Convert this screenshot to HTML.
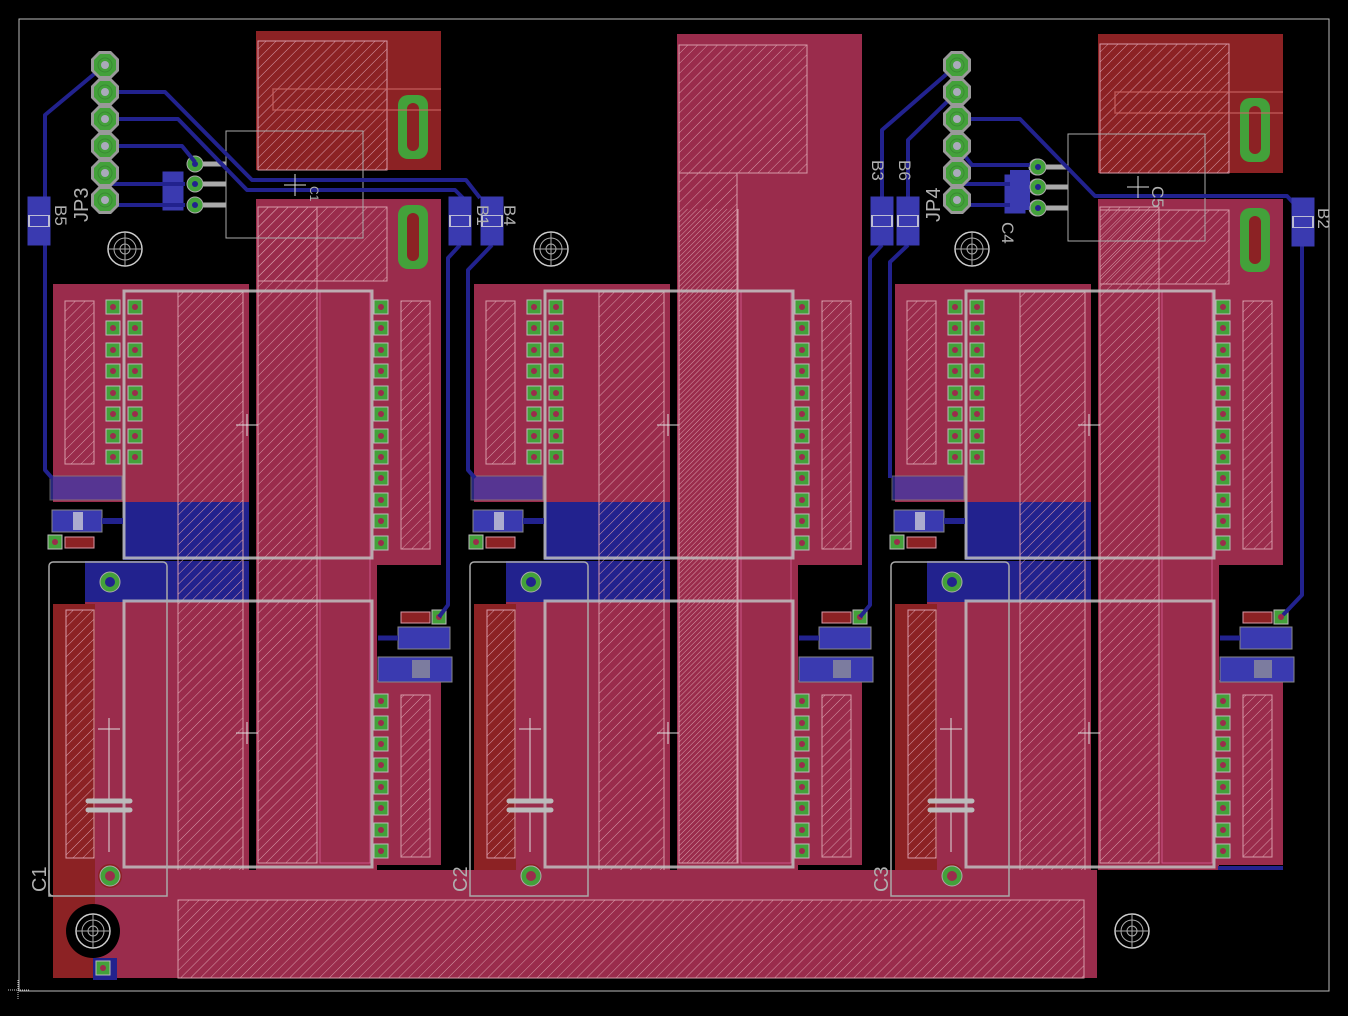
<!DOCTYPE html>
<html><head><meta charset="utf-8"><style>
html,body{margin:0;padding:0;background:#000;width:1348px;height:1016px;overflow:hidden}
svg{display:block}
text{font-family:"Liberation Sans",sans-serif;fill:#b0b0b0}
</style></head><body>
<svg width="1348" height="1016" viewBox="0 0 1348 1016" xmlns="http://www.w3.org/2000/svg">
<defs>
<pattern id="h" width="7" height="7" patternUnits="userSpaceOnUse" patternTransform="rotate(45)">
<line x1="0" y1="0" x2="0" y2="7" stroke="#d79aa8" stroke-width="1"/>
</pattern>
<g id="pad"><rect x="-7" y="-7" width="14" height="14" fill="#43a13a" stroke="#bbb" stroke-width="1"/><circle r="3" fill="#9a2c4c"/></g>
<g id="hole"><circle r="17" fill="none" stroke="#ccc" stroke-width="1.5"/><circle r="11" fill="none" stroke="#aaa"/><circle r="5" fill="none" stroke="#aaa"/><line x1="-17" y1="0" x2="17" y2="0" stroke="#aaa"/><line x1="0" y1="-17" x2="0" y2="17" stroke="#aaa"/></g>
<g id="oblong"><rect x="-15" y="-32" width="30" height="64" rx="10" fill="#43a13a"/><rect x="-6" y="-24" width="12" height="48" rx="6" fill="#8c2224"/></g>
<g id="oct"><polygon points="-6,-14 6,-14 14,-6 14,6 6,14 -6,14 -14,6 -14,-6" fill="#999"/><polygon points="-5,-11 5,-11 11,-5 11,5 5,11 -5,11 -11,5 -11,-5" fill="#43a13a"/><circle r="7" fill="none" stroke="#3a8a33" stroke-width="1"/><circle r="4" fill="#aab"/></g>
<g id="jp">
<use href="#oct" y="0"/><use href="#oct" y="27"/><use href="#oct" y="54"/><use href="#oct" y="81"/><use href="#oct" y="108"/><use href="#oct" y="135"/>
</g>
<g id="bsmd"><rect x="-11" y="-24" width="22" height="48" fill="#3a3ab0" stroke="#3a3ab0"/><rect x="-11" y="-6" width="22" height="12" fill="#ddd" opacity=".8"/><rect x="-9" y="-5" width="18" height="10" fill="#3a3ab0"/></g>
<g id="mod">
<rect x="256" y="199" width="185" height="366" fill="#9a2c4c"/>
<rect x="53" y="284" width="196" height="218" fill="#9a2c4c"/>
<rect x="123" y="502" width="126" height="58" fill="#22228e"/>
<rect x="85" y="561" width="164" height="42" fill="#22228e"/>
<rect x="85" y="602" width="164" height="270" fill="#9a2c4c"/>
<rect x="53" y="604" width="42" height="374" fill="#8c2224"/>
<rect x="256" y="565" width="121" height="305" fill="#9a2c4c"/>
<rect x="372" y="680" width="69" height="185" fill="#9a2c4c"/>
<rect x="258" y="207" width="59" height="656" fill="url(#h)" stroke="#d79aa8"/>
<rect x="320" y="291" width="50" height="572" fill="none" stroke="#c58" stroke-width="1"/>
<rect x="178" y="292" width="65" height="608" fill="url(#h)" stroke="#d79aa8"/>
<rect x="65" y="301" width="29" height="163" fill="url(#h)" stroke="#d79aa8"/>
<rect x="66" y="610" width="28" height="248" fill="url(#h)" stroke="#d79aa8"/>
<rect x="401" y="301" width="29" height="248" fill="url(#h)" stroke="#d79aa8"/>
<rect x="401" y="695" width="29" height="162" fill="url(#h)" stroke="#d79aa8"/>
<rect x="124" y="291" width="248" height="267" fill="none" stroke="#c0c0c0" stroke-width="3" opacity=".85"/>
<rect x="124" y="601" width="248" height="266" fill="none" stroke="#c0c0c0" stroke-width="3" opacity=".85"/>
<rect x="49" y="562" width="118" height="334" rx="4" fill="none" stroke="#aaa" stroke-width="1.5"/>
<g>
<use href="#pad" x="113" y="307"/><use href="#pad" x="135" y="307"/>
<use href="#pad" x="113" y="328"/><use href="#pad" x="135" y="328"/>
<use href="#pad" x="113" y="350"/><use href="#pad" x="135" y="350"/>
<use href="#pad" x="113" y="371"/><use href="#pad" x="135" y="371"/>
<use href="#pad" x="113" y="393"/><use href="#pad" x="135" y="393"/>
<use href="#pad" x="113" y="414"/><use href="#pad" x="135" y="414"/>
<use href="#pad" x="113" y="436"/><use href="#pad" x="135" y="436"/>
<use href="#pad" x="113" y="457"/><use href="#pad" x="135" y="457"/>
</g>
<g>
<use href="#pad" x="381" y="307"/><use href="#pad" x="381" y="328"/><use href="#pad" x="381" y="350"/><use href="#pad" x="381" y="371"/><use href="#pad" x="381" y="393"/><use href="#pad" x="381" y="414"/><use href="#pad" x="381" y="436"/><use href="#pad" x="381" y="457"/><use href="#pad" x="381" y="478"/><use href="#pad" x="381" y="500"/><use href="#pad" x="381" y="521"/><use href="#pad" x="381" y="543"/>
<use href="#pad" x="381" y="701"/><use href="#pad" x="381" y="723"/><use href="#pad" x="381" y="744"/><use href="#pad" x="381" y="765"/><use href="#pad" x="381" y="787"/><use href="#pad" x="381" y="808"/><use href="#pad" x="381" y="830"/><use href="#pad" x="381" y="851"/>
</g>
<circle cx="110" cy="582" r="10" fill="#43a13a" stroke="#aaa"/><circle cx="110" cy="582" r="5" fill="#22228e"/>
<circle cx="110" cy="876" r="12" fill="#8c2224"/><circle cx="110" cy="876" r="10" fill="#43a13a" stroke="#aaa"/><circle cx="110" cy="876" r="5" fill="#9a2c4c"/>
<rect x="50" y="476" width="72" height="24" fill="#3a3ab0" opacity=".7" stroke="#888"/>
<rect x="52" y="510" width="50" height="22" fill="#3a3ab0" stroke="#888"/>
<rect x="73" y="512" width="10" height="18" fill="#ddd" opacity=".7"/>
<line x1="102" y1="521" x2="123" y2="521" stroke="#22228e" stroke-width="6"/>
<rect x="65" y="537" width="29" height="11" fill="#8c2224" stroke="#d79aa8"/>
<use href="#pad" x="55" y="542"/>
<rect x="401" y="612" width="29" height="11" fill="#8c2224" stroke="#d79aa8"/>
<use href="#pad" x="439" y="617"/>
<rect x="398" y="627" width="52" height="22" fill="#3a3ab0" stroke="#888"/>
<rect x="378" y="657" width="74" height="25" fill="#3a3ab0" stroke="#888"/>
<rect x="412" y="660" width="18" height="18" fill="#999" opacity=".7"/>
<line x1="378" y1="638" x2="398" y2="638" stroke="#22228e" stroke-width="5"/>
<g stroke="#ddd" stroke-width="1"><line x1="236" y1="425" x2="258" y2="425"/><line x1="247" y1="414" x2="247" y2="436"/>
<line x1="236" y1="733" x2="258" y2="733"/><line x1="247" y1="722" x2="247" y2="744"/>
<line x1="98" y1="729" x2="120" y2="729"/><line x1="109" y1="718" x2="109" y2="740"/>
<line x1="109" y1="740" x2="109" y2="800"/><line x1="109" y1="811" x2="109" y2="852"/></g>
<g stroke="#bbb" stroke-width="5" stroke-linecap="round"><line x1="88" y1="801" x2="130" y2="801"/><line x1="88" y1="810" x2="130" y2="810"/></g>
</g>
<g id="top1">
<rect x="256" y="31" width="185" height="139" fill="#8c2224"/>
<rect x="258" y="41" width="129" height="129" fill="url(#h)" stroke="#d79aa8"/>
<rect x="258" y="207" width="129" height="74" fill="url(#h)" stroke="#d79aa8"/>
<use href="#oblong" x="413" y="127"/><use href="#oblong" x="413" y="237"/>
<polyline points="441,89 273,89 273,110 441,110" fill="none" stroke="#c66" stroke-width="1.5" opacity=".7"/>
<rect x="226" y="131" width="137" height="107" fill="none" stroke="#aaa" stroke-width="1"/>
<g stroke="#aaa" stroke-width="5"><line x1="195" y1="164" x2="226" y2="164"/><line x1="195" y1="184" x2="226" y2="184"/><line x1="195" y1="205" x2="226" y2="205"/></g>
<g fill="#43a13a" stroke="#aaa"><circle cx="195" cy="164" r="8"/><circle cx="195" cy="184" r="8"/><circle cx="195" cy="205" r="8"/></g>
<g fill="#22228e"><circle cx="195" cy="164" r="3"/><circle cx="195" cy="184" r="3"/><circle cx="195" cy="205" r="3"/></g>
<rect x="163" y="172" width="20" height="38" fill="#3a3ab0" stroke="#3a3ab0"/>
</g>
</defs>

<rect x="19" y="19" width="1310" height="972" fill="none" stroke="#bbb" stroke-width="1"/>

<rect x="677" y="34" width="185" height="170" fill="#9a2c4c"/>
<rect x="679" y="45" width="128" height="128" fill="url(#h)" stroke="#d79aa8"/>

<use href="#mod"/>
<use href="#mod" x="421"/>
<use href="#mod" x="842"/>
<use href="#top1"/>
<g transform="translate(842,3)"><use href="#top1"/></g>
<rect x="677" y="199" width="185" height="10" fill="#9a2c4c"/>
<rect x="679" y="173" width="58" height="690" fill="url(#h)" stroke="#d79aa8"/>

<rect x="53" y="870" width="1044" height="108" fill="#9a2c4c"/>
<rect x="53" y="870" width="42" height="108" fill="#8c2224"/>
<rect x="178" y="900" width="906" height="78" fill="url(#h)" stroke="#d79aa8"/>
<circle cx="110" cy="876" r="12" fill="#8c2224"/><circle cx="110" cy="876" r="10" fill="#43a13a" stroke="#aaa"/><circle cx="110" cy="876" r="5" fill="#9a2c4c"/>
<circle cx="531" cy="876" r="10" fill="#43a13a" stroke="#aaa"/><circle cx="531" cy="876" r="5" fill="#9a2c4c"/>
<circle cx="952" cy="876" r="10" fill="#43a13a" stroke="#aaa"/><circle cx="952" cy="876" r="5" fill="#9a2c4c"/>
<g fill="none" stroke="#aaa" stroke-width="1.5"><path d="M49,870 V896 H167 V870"/><path d="M470,870 V896 H588 V870"/><path d="M891,870 V896 H1009 V870"/></g>
<circle cx="93" cy="931" r="27" fill="#000"/><use href="#hole" x="93" y="931"/>
<rect x="93" y="958" width="24" height="22" fill="#22228e"/><use href="#pad" x="103" y="968"/>
<use href="#hole" x="125" y="249"/><use href="#hole" x="551" y="249"/><use href="#hole" x="972" y="249"/><use href="#hole" x="1132" y="931"/>
<line x1="1218" y1="868" x2="1283" y2="868" stroke="#22228e" stroke-width="4"/>

<g fill="none" stroke="#22228e" stroke-width="4" stroke-linejoin="round">
<polyline points="105,65 45,115 45,470 52,478"/>
<polyline points="105,92 165,92 252,180 466,180 480,198"/>
<polyline points="105,119 178,119 247,190 455,190 465,200"/>
<polyline points="105,146 182,146 195,162"/>
<polyline points="105,184 185,184"/>
<polyline points="105,205 185,205"/>
<polyline points="460,245 448,258 448,605 439,617"/>
<polyline points="492,245 468,270 468,470 475,478"/>
<polyline points="957,65 882,130 882,200"/>
<polyline points="957,92 908,140 908,200"/>
<polyline points="957,119 1020,119 1095,196 1287,196 1300,210"/>
<polyline points="957,146 972,165 1030,165"/>
<polyline points="957,184 1030,184"/>
<polyline points="957,205 1030,205"/>
<polyline points="882,245 870,258 870,605 860,617"/>
<polyline points="908,245 890,262 890,478"/>
<polyline points="1302,245 1302,595 1283,615"/>
</g>
<use href="#jp" x="105" y="65"/>
<use href="#jp" x="957" y="65"/>
<use href="#bsmd" x="39" y="221"/>
<use href="#bsmd" x="460" y="221"/>
<use href="#bsmd" x="492" y="221"/>
<use href="#bsmd" x="882" y="221"/>
<use href="#bsmd" x="908" y="221"/>
<use href="#bsmd" x="1303" y="222"/>
<rect x="1010" y="170" width="20" height="40" fill="#3a3ab0"/>
<g fill="#43a13a" stroke="#aaa"><circle cx="1038" cy="167" r="8"/><circle cx="1038" cy="187" r="8"/><circle cx="1038" cy="208" r="8"/></g>
<g fill="#22228e"><circle cx="1038" cy="167" r="3"/><circle cx="1038" cy="187" r="3"/><circle cx="1038" cy="208" r="3"/></g>

<g font-size="20">
<text transform="translate(88,222) rotate(-90)">JP3</text>
<text transform="translate(940,222) rotate(-90)">JP4</text>
<text transform="translate(46,892) rotate(-90)">C1</text>
<text transform="translate(467,892) rotate(-90)">C2</text>
<text transform="translate(888,892) rotate(-90)">C3</text>
</g>
<g font-size="17">
<text transform="translate(55,205) rotate(90)">B5</text>
<text transform="translate(477,205) rotate(90)">B1</text>
<text transform="translate(504,205) rotate(90)">B4</text>
<text transform="translate(872,160) rotate(90)">B3</text>
<text transform="translate(899,160) rotate(90)">B6</text>
<text transform="translate(1318,208) rotate(90)">B2</text>
<text transform="translate(1002,222) rotate(90)">C4</text>
<text transform="translate(1152,186) rotate(90)">C5</text>
<text transform="translate(310,186) rotate(90)" font-size="12">C1</text>
</g>
<g stroke="#ddd"><line x1="284" y1="185" x2="306" y2="185"/><line x1="295" y1="174" x2="295" y2="196"/>
<line x1="1127" y1="187" x2="1149" y2="187"/><line x1="1138" y1="176" x2="1138" y2="198"/></g>
<g stroke="#ccc" stroke-dasharray="1,1"><line x1="8" y1="990" x2="30" y2="990"/><line x1="18" y1="980" x2="18" y2="1000"/></g>
</svg>
</body></html>
